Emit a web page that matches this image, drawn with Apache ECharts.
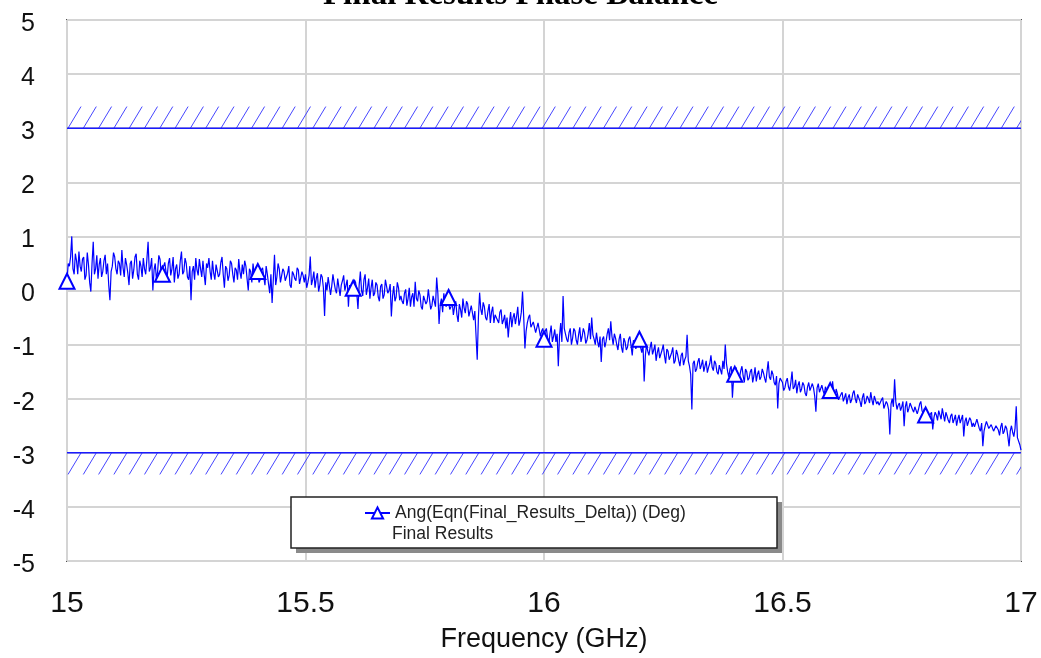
<!DOCTYPE html>
<html>
<head>
    <meta charset="utf-8">
    <script src="https://cdn.jsdelivr.net/npm/echarts@6/dist/echarts.min.js"></script>
</head>
<body style="margin:0;background:#fff;">
<div id="main" style="width: 1041px;height:658px;"></div>

<script type="text/javascript">
    // sweep: 15 to 17 GHz, one point every 2.5 MHz
    var freqStart = 15;
    var freqStep = 0.0025;

    // phase balance in degrees (200 points per 0.5 GHz)
    var phaseA = [
        0.17,0.5, 0.45,0.62, 1.0,0.4, 0.3,0.68, 0.55,0.3, 0.72,0.45, 0.35,0.58, 0.62,0.2, 0.28,0.7, 0.48,0.15, -0.02,0.5, 0.9,0.3, 0.4,0.65, 0.22,0.48, 0.6,0.25, 0.35,0.55, 0.66,0.3, 0.5,0.1, -0.18,0.35, 0.45,0.7,
        0.62,0.4, 0.3,0.55, 0.5,0.28, 0.75,0.42, 0.25,0.6, 0.48,0.32, 0.1,0.5, 0.55,0.22, 0.38,0.62, 0.68,0.3, 0.2,0.55, 0.45,0.25, 0.6,0.4, 0.3,0.58, 0.9,0.35, 0.42,0.6, 0.0,0.38, 0.5,0.2, 0.35,0.65, 0.58,0.3,
        0.3,0.45, 0.52,0.35, 0.25,0.5, 0.6,0.28, 0.4,0.62, 0.15,0.4, 0.48,0.22, 0.3,0.55, 0.72,0.3, 0.35,0.6, 0.5,0.25, 0.2,0.45, -0.18,0.35, 0.45,0.2, 0.6,0.38, 0.28,0.58, 0.4,0.25, 0.55,0.3, 0.1,0.5, 0.42,0.6,
        0.35,0.2, 0.55,0.32, 0.2,0.48, 0.45,0.25, 0.3,0.52, 0.62,0.3, 0.05,0.45, 0.4,0.18, 0.28,0.55, 0.5,0.3, 0.15,0.42, 0.38,0.2, 0.58,0.35, 0.22,0.48, 0.3,0.55, 0.45,0.22, 0.0,0.4, 0.35,0.15, 0.5,0.3, 0.25,0.45,
        0.35,0.15, 0.2,0.38, 0.42,0.25, 0.1,0.45, 0.3,0.12, -0.05,0.3, -0.23,0.2, 0.66,0.1, 0.25,0.5, 0.4,0.15, 0.12,0.4, 0.35,0.18, 0.2,0.32, 0.45,0.1, 0.05,0.35, 0.3,0.22, 0.18,0.42, 0.38,0.12, 0.1,0.35, 0.28,0.15
    ];
    var phaseB = [
        0.3,0.05, 0.15,0.28, 0.63,0.1, 0.2,0.35, 0.05,0.22, 0.32,-0.02, 0.1,0.3, 0.25,0.05, -0.47,0.15, 0.0,0.25, 0.22,-0.08, 0.08,0.3, 0.15,0.02, -0.05,0.22, 0.2,-0.1, 0.1,0.18, 0.28,0.0, 0.02,0.2, -0.3,0.1, 0.12,-0.05,
        0.04,0.2, 0.15,-0.05, -0.34,0.1, 0.35,0.0, -0.1,0.2, 0.3,-0.08, 0.05,0.22, -0.15,0.05, 0.2,-0.1, -0.05,0.15, 0.1,-0.12, -0.2,0.08, 0.12,-0.15, -0.08,0.2, 0.18,-0.05, 0.0,0.12, -0.48,-0.1, 0.08,-0.2, -0.12,0.15, 0.05,-0.18,
        -0.1,-0.2, -0.25,-0.05, 0.02,-0.28, -0.15,0.05, -0.3,-0.12, -0.05,-0.3, 0.16,-0.15, -0.2,0.0, -0.08,-0.3, -0.35,-0.1, -0.12,-0.25, -0.2,0.02, 0.0,-0.35, -0.28,-0.1, -0.1,-0.3, 0.24,-0.05, -0.62,-0.25, -0.15,-0.4, -0.05,-0.22, -0.3,-0.1,
        -0.13,-0.35, -0.3,-0.2, -0.45,-0.3, -0.2,-0.45, -0.58,-0.25, -0.35,-0.5, -0.15,-0.32, -0.42,-0.2, -0.25,-0.48, -0.5,-0.28, -0.3,-0.55, -0.38,-0.4, -1.28,-0.5, -0.04,-0.35, -0.45,-0.22, -0.3,-0.5, -0.55,-0.38, -0.25,-0.6, -0.4,-0.3, -0.6,-0.45,
        -0.45,-0.55, -0.6,-0.4, -0.35,-0.62, -0.55,-0.45, -0.7,-0.5, -0.87,-0.6, -0.4,-0.68, -0.5,-0.42, -0.62,-0.48, -0.3,-0.65, -0.55,-0.4, -0.02,-0.5, -1.07,-0.75, -0.6,-0.5, -0.45,-0.68, -0.7,-0.58, -0.55,-0.78, -0.8,-0.6, -0.62,-0.85, -0.75,-0.7
    ];
    var phaseC = [
        -0.9,-0.75, -0.7,-0.88, -1.0,-0.8, -0.65,-0.95, -0.85,-0.72, -0.95,-0.8, -1.4,-0.85, -0.6,-0.95, -0.1,-0.7, -0.8,-0.9, -0.95,-0.78, -0.7,-1.0, -0.88,-0.7, -0.75,-0.92, -1.0,-0.82, -0.68,-0.95, -0.85,-0.7, -0.78,-0.98, -0.92,-0.8, -0.6,-0.9,
        -0.5,-0.82, -0.9,-1.0, -0.78,-0.95, -1.05,-0.85, -1.32,-0.9, -0.85,-1.05, -0.95,-0.8, -0.7,-0.92, -0.57,-0.85, -1.0,-0.8, -0.88,-1.0, -1.1,-0.9, -0.8,-1.05, -1.15,-0.88, -0.95,-1.1, -1.05,-0.9, -0.85,-1.02, -1.2,-0.92, -0.98,-1.08, -1.1,-0.95,
        -0.9,-1.05, -1.15,-0.98, -1.68,-1.2, -1.0,-1.12, -1.2,-1.05, -0.95,-1.18, -1.1,-1.0, -1.3,-1.15, -1.05,-1.25, -1.22,-1.1, -1.0,-1.2, -1.35,-1.08, -1.12,-1.28, -1.25,-1.15, -1.05,-1.35, -1.3,-1.1, -1.18,-1.3, -1.4,-1.2, -1.15,-1.38, -1.28,-1.22,
        -0.82,-1.3, -1.4,-1.55, -2.2,-1.35, -1.3,-1.5, -1.45,-1.32, -1.25,-1.45, -1.38,-1.28, -1.5,-1.4, -1.3,-1.52, -1.42,-1.35, -1.2,-1.42, -1.48,-1.3, -1.35,-1.5, -1.55,-1.38, -1.4,-1.55, -1.3,-1.45, -1.0,-1.35, -1.5,-1.6, -1.45,-1.4, -1.98,-1.62,
        -1.55,-1.42, -1.45,-1.65, -1.6,-1.48, -1.4,-1.58, -1.7,-1.45, -1.5,-1.66, -1.62,-1.5, -1.45,-1.7, -1.58,-1.42, -1.68,-1.55, -1.48,-1.65, -1.6,-1.45, -1.52,-1.62, -1.7,-1.5, -1.31,-1.6, -1.65,-1.48, -1.55,-1.7, -1.75,-1.58, -2.18,-1.72, -1.62,-1.65
    ];
    var phaseD = [
        -1.7,-1.85, -1.8,-1.68, -1.62,-1.78, -1.85,-1.7, -1.5,-1.82, -1.78,-1.65, -1.9,-1.75, -1.68,-1.88, -1.82,-1.7, -1.75,-1.9, -1.95,-1.78, -1.7,-1.85, -1.88,-1.72, -1.8,-1.95, -2.24,-1.8, -1.72,-1.88, -1.9,-1.75, -1.85,-1.92, -1.78,-1.85, -1.95,-1.8,
        -1.85,-1.95, -1.68,-1.9, -2.0,-1.82, -1.9,-2.02, -2.05,-1.92, -1.88,-2.05, -1.98,-1.9, -2.1,-1.98, -1.92,-2.08, -2.02,-1.9, -1.85,-2.0, -2.08,-1.92, -1.95,-2.05, -2.15,-1.98, -1.9,-2.1, -2.05,-1.95, -2.0,-2.08, -1.88,-2.02, -2.12,-1.95, -1.98,-2.1,
        -2.05,-2.12, -2.15,-2.02, -1.98,-2.18, -2.2,-2.05, -2.1,-2.2, -2.66,-2.1, -2.0,-2.15, -1.64,-2.05, -2.2,-2.12, -2.08,-2.22, -2.15,-2.05, -2.51,-2.15, -2.05,-2.25, -2.18,-2.08, -2.1,-2.2, -2.25,-2.15, -2.12,-2.28, -2.2,-2.1, -2.05,-2.22, -2.28,-2.18,
        -2.3,-2.22, -2.2,-2.32, -2.35,-2.25, -2.57,-2.35, -2.25,-2.3, -2.4,-2.22, -2.3,-2.38, -2.18,-2.3, -2.42,-2.25, -2.32,-2.4, -2.45,-2.32, -2.28,-2.45, -2.38,-2.3, -2.5,-2.38, -2.3,-2.45, -2.42,-2.3, -2.7,-2.42, -2.35,-2.5, -2.48,-2.35, -2.4,-2.52,
        -2.45,-2.52, -2.55,-2.38, -2.4,-2.55, -2.6,-2.45, -2.88,-2.6, -2.5,-2.42, -2.42,-2.55, -2.58,-2.48, -2.48,-2.6, -2.62,-2.5, -2.5,-2.58, -2.68,-2.52, -2.45,-2.65, -2.6,-2.5, -2.55,-2.7, -2.88,-2.6, -2.5,-2.62, -2.7,-2.55, -2.14,-2.72, -2.75,-2.85,
        -2.95
    ];

    // spec limits (deg), hatched on the outside
    var limitBands = [[15, 3, 3.4], [15, -3.4, -3]];

    var markerEvery = 80;   // one triangle every 0.2 GHz
    var seriesName = 'Ang(Eqn(Final_Results_Delta)) (Deg)';

    var phase = phaseA.concat(phaseB, phaseC, phaseD);
    var points = [];
    for (var i = 0; i < phase.length; i++) {
        points.push([+(freqStart + i * freqStep).toFixed(4), phase[i]]);
    }

    var font = 'Liberation Sans, Arial, sans-serif';
    var myChart = echarts.init(document.getElementById('main'));

    myChart.setOption({
        animation: false,
        title: {
            text: 'Final Results Phase Balance',
            left: 'center',
            top: -26,
            textStyle: {fontFamily: 'Liberation Serif, Times New Roman, serif', fontWeight: 'bold', fontSize: 33, color: '#000'}
        },
        grid: {
            left: 67, right: 20, top: 20, bottom: 97,
            show: true, borderColor: '#505050', borderWidth: 2
        },
        xAxis: {
            type: 'value',
            min: 15, max: 17, interval: 0.5,
            name: 'Frequency (GHz)',
            nameLocation: 'middle',
            nameGap: 65,
            nameTextStyle: {fontFamily: font, fontSize: 27, color: '#111'},
            axisLine: {show: false},
            axisTick: {show: false},
            axisLabel: {fontFamily: font, fontSize: 30, color: '#111', margin: 28},
            splitLine: {lineStyle: {color: '#d4d4d4', width: 2}}
        },
        yAxis: {
            type: 'value',
            min: -5, max: 5, interval: 1,
            axisLine: {show: false},
            axisTick: {show: false},
            // labels sit a few px below their gridline in the original
            axisLabel: {fontFamily: font, fontSize: 25, color: '#111', margin: 32,
                verticalAlign: 'top', lineHeight: 8},
            splitLine: {lineStyle: {color: '#d4d4d4', width: 2}}
        },
        legend: {
            left: 359, top: 499,
            z: 20,
            itemWidth: 25, itemHeight: 14,
            selectedMode: false,
            textStyle: {fontFamily: font, fontSize: 17.5, color: '#222'},
            data: [seriesName]
        },
        graphic: [
            {
                type: 'rect', z: 10,
                shape: {x: 296, y: 502, width: 486, height: 51},
                style: {fill: '#8a8a8a'}
            },
            {
                type: 'rect', z: 11,
                shape: {x: 291, y: 497, width: 486, height: 51},
                style: {fill: '#fff', stroke: '#222', lineWidth: 1.5}
            },
            {
                type: 'text', z: 21,
                x: 392, y: 534,
                style: {text: 'Final Results', font: '17.5px ' + font, fill: '#222', verticalAlign: 'middle'}
            }
        ],
        series: [
            {
                type: 'custom',
                silent: true,
                data: limitBands,
                encode: {x: 0, y: [1, 2]},
                z: 1,
                renderItem: function (params, api) {
                    var cs = params.coordSys;
                    var lo = api.value(1), hi = api.value(2);
                    var yTop = api.coord([15, hi])[1];
                    var yBot = api.coord([15, lo])[1];
                    var kids = [];
                    for (var x = cs.x + 1; x < cs.x + cs.width; x += 15.3) {
                        kids.push({
                            type: 'line',
                            shape: {x1: x, y1: yBot, x2: x + 13, y2: yTop},
                            style: {stroke: '#4646ff', lineWidth: 1}
                        });
                    }
                    var edge = lo > 0 ? yBot : yTop;
                    kids.push({
                        type: 'line',
                        shape: {x1: cs.x, y1: edge, x2: cs.x + cs.width, y2: edge},
                        style: {stroke: '#1a1aff', lineWidth: 1.5}
                    });
                    return {
                        type: 'group',
                        children: kids,
                        clipPath: {type: 'rect', shape: {x: cs.x, y: yTop - 1, width: cs.width, height: yBot - yTop + 2}}
                    };
                }
            },
            {
                name: seriesName,
                type: 'line',
                data: points,
                z: 3,
                symbol: 'emptyTriangle',
                showSymbol: true,
                showAllSymbol: true,
                symbolSize: function (val, params) {
                    var idx = params.dataIndex;
                    return idx % markerEvery === 0 && idx < points.length - 1 ? 15 : 0;
                },
                itemStyle: {color: '#0000ff', borderWidth: 1},
                lineStyle: {color: '#0000ff', width: 1.2}
            }
        ]
    });
</script>
</body>
</html>
